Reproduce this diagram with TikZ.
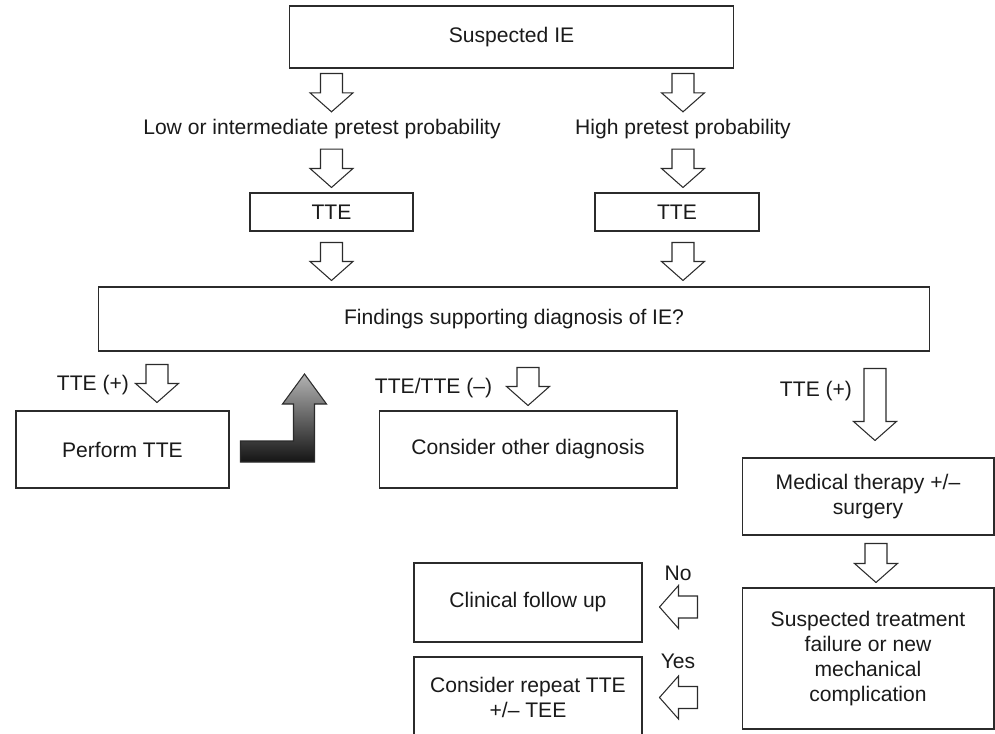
\documentclass[tikz,border=0pt]{standalone}
\usepackage{fontspec}
\setmainfont{Liberation Sans}
\usepackage{tikz}
\usetikzlibrary{calc}
\definecolor{ln}{HTML}{2B2B2B}
\definecolor{txt}{HTML}{1A1A1A}

\begin{document}
\begin{tikzpicture}[
        x=0.02cm, y=-0.02cm,
        font=\fontsize{12}{14.2}\selectfont, text=txt,
        box/.style={draw=ln, line width=0.6pt, inner sep=0pt, align=center},
        lbl/.style={inner sep=0pt},
        blk/.style 2 args={draw=ln, fill=white, line width=0.6pt,
          to path={let \p1=($(\tikztostart)!#1!(\tikztotarget)$),
                       \p2=($(\tikztotarget)!#2!(\tikztostart)$),
                       \p3=($(\p2)!0.38cm!(\p1)$) in
            ($(\p1)!0.22cm!90:(\p3)$) -- ($(\p3)!0.22cm!-90:(\p1)$)
            -- ($(\p3)!0.43cm!-90:(\p1)$) -- (\p2)
            -- ($(\p3)!0.43cm!90:(\p1)$) -- ($(\p3)!0.22cm!90:(\p1)$)
            -- ($(\p1)!0.22cm!-90:(\p3)$) -- cycle}},
      ]
      \useasboundingbox (0,0) rectangle (995,734);

      % Top: suspicion and pretest probability
      \node[box, minimum width=8.9cm, minimum height=1.24cm] (top) at (511.5,37) {Suspected IE};
      \node[lbl] (lowp) at (322,129) {Low or intermediate pretest probability};
      \node[lbl] (highp) at (683,129) {High pretest probability};
      \node[box, minimum width=3.26cm, minimum height=0.76cm] (tteL) at (331.5,212) {TTE};
      \node[box, minimum width=3.28cm, minimum height=0.76cm] (tteR) at (677,212) {TTE};
      \node[box, minimum width=16.64cm, minimum height=1.28cm] (find) at (514,319) {Findings supporting diagnosis of IE?};

      % Outcomes
      \node[box, minimum width=4.26cm, minimum height=1.54cm] (perf) at (122.5,449.5) {Perform TTE};
      \node[box, minimum width=5.96cm, minimum height=1.54cm] (other) at (528,449.5) {Consider other diagnosis};
      \node[box, minimum width=5.04cm, minimum height=1.54cm] (med) at (868,496.5) {Medical therapy +/--\\surgery};
      \node[box, minimum width=5.04cm, minimum height=2.82cm] (fail) at (868,658.5) {Suspected treatment\\failure or new\\mechanical\\complication};
      \node[box, minimum width=4.56cm, minimum height=1.58cm] (follow) at (528,602.5) {Clinical follow up};
      \node[box, minimum width=4.56cm, minimum height=1.62cm] (repeat) at (528,697.5) {Consider repeat TTE\\+/-- TEE};

      % Arrow labels
      \node[lbl] (tpa) at (93,385) {TTE (+)};
      \node[lbl] (tng) at (433.5,388) {TTE/TTE (--)};
      \node[lbl] (tpb) at (816,391) {TTE (+)};
      \node[lbl] (no) at (678,573) {No};
      \node[lbl] (yes) at (678,661) {Yes};

      % Block arrows
      \draw[blk={0.1cm}{0.14cm}] (top.south -| tteL) to (lowp.north -| tteL);
      \draw[blk={0.1cm}{0.14cm}] (top.south -| highp) to (highp.north);
      \draw[blk={0.2cm}{0.1cm}] (lowp.south -| tteL) to (tteL.north);
      \draw[blk={0.2cm}{0.1cm}] (highp.south) to (tteR.north -| highp);
      \draw[blk={0.22cm}{0.12cm}] (tteL.south) to (find.north -| tteL);
      \draw[blk={0.22cm}{0.12cm}] (tteR.south -| highp) to (find.north -| highp);

      \coordinate (c7) at ([xshift=0.69cm]perf.north);
      \draw[blk={0.26cm}{0.16cm}] (find.south -| c7) to (c7);
      \draw[blk={0.32cm}{0.1cm}] (find.south -| other) to (other.north);
      \coordinate (c9) at ([xshift=0.14cm]med.north);
      \draw[blk={0.34cm}{0.34cm}] (find.south -| c9) to (c9);
      \coordinate (c10) at ([xshift=0.16cm]fail.north);
      \draw[blk={0.16cm}{0.1cm}] (med.south -| c10) to (c10);
      \coordinate (c11) at ([yshift=-0.09cm]follow.east);
      \draw[blk={0.88cm}{0.34cm}] (fail.west |- c11) to (c11);
      \draw[blk={0.88cm}{0.34cm}] (fail.west |- repeat) to (repeat.east);

      % Shaded bent arrow back up to the findings box
      \coordinate (g0) at ([xshift=0.22cm, yshift=-0.04cm]perf.east);
      \draw[ln, line width=0.6pt, top color=black!30, bottom color=black!92]
        (g0) ++(0,-10.5) -- ++(53,0) -- ++(0,-37) -- ++(-11,0) -- ++(22,-30)
        -- ++(22,30) -- ++(-12,0) -- ++(0,58) -- ++(-74,0) -- cycle;
      \end{tikzpicture}
\end{document}
